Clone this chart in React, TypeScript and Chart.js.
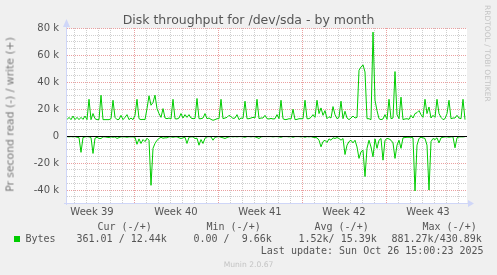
import React, { useEffect, useRef } from 'react';
import { Chart, registerables } from 'chart.js';

Chart.register(...registerables);

const TITLE = 'Disk throughput for /dev/sda - by month';
const Y_LABEL = 'Pr second read (-) / write (+)';
const SIDE_TEXT = 'RRDTOOL / TOBI OETIKER';
const FOOTER = 'Munin 2.0.67';
const LAST_UPDATE = 'Last update: Sun Oct 26 15:00:23 2025';
const SERIES_NAME = 'Bytes';

const HOURS_PER_POINT = 4;
const X_MAX_HOURS = 800;

// write (+) in kB/s, one value per 4 hours
const writeK = [
  12.3, 14, 12.3, 15, 12.3, 14, 12.3, 14, 12.5, 15,
  12.3, 27.4, 12.3, 16.8, 13, 12.3, 12.3, 30.4, 12.3, 12.3,
  12.3, 12.3, 13, 26.7, 14, 12.3, 12.5, 15.5, 12.3, 14,
  16, 12.3, 13.5, 12.3, 15.5, 27.4, 13, 12.3, 12.5, 12.3,
  20.5, 30, 23, 25, 30.5, 20.5, 16.8, 14, 20.5, 13.5,
  13, 13.5, 12.8, 27.4, 13, 12.8, 13.5, 16.8, 13.5, 16,
  14, 16, 13.5, 13, 13.2, 28, 13, 13, 13.5, 16.8,
  13, 13.5, 12.5, 11.8, 12.3, 13, 13, 27.4, 13, 13.5,
  14, 15.5, 14.5, 13.2, 13.5, 16, 12.3, 13.5, 13.2, 26,
  13, 13, 13.5, 14, 13.5, 27.4, 13, 13.5, 13.5, 15.5,
  13, 12.8, 13.2, 12.8, 13, 16, 13, 26.7, 13, 12.3,
  12.5, 13, 12.8, 20, 12.3, 12.5, 13, 13, 13, 26.7,
  13, 13, 14, 16, 14, 26.7, 16.8, 21, 15.5, 19,
  13, 14.5, 13.5, 22, 16, 13, 14, 26, 13, 18.5,
  13.5, 12.3, 13.5, 15, 13.5, 14, 49, 51.4, 53, 47.7,
  13, 13, 12.3, 77.3, 26.7, 19, 13, 12.3, 12.8, 16,
  12.5, 27.4, 13, 13.5, 48, 16, 13, 29, 12.3, 12.8,
  13, 12.5, 15.5, 13.5, 16.8, 17.5, 19, 16, 14, 27.4,
  16.8, 21.7, 13.5, 15.5, 14, 27.4, 16.8, 14, 12.3, 13,
  16.8, 26.7, 13, 13.5, 13.5, 15.5, 13.5, 13, 27.4, 12.3,
];

// read (-) in kB/s, one value per 4 hours (drawn below zero)
const readK = [
  0.3, 0.5, 0.3, 0.5, 0.3, 0.8, 1, 12, 1, 0.5,
  0.3, 0.5, 1, 12.8, 1.5, 0.8, 1.7, 1.7, 0.5, 0.5,
  0.8, 1, 0.5, 0.8, 0.5, 1.7, 1, 0.5, 0.5, 0.5,
  0.8, 0.5, 0.5, 0.5, 0.8, 6, 2, 5.4, 2.5, 4,
  1.5, 3, 36.5, 9, 5.4, 3, 1.7, 0.8, 1.5, 1.2,
  1.2, 0.5, 0.5, 0.8, 0.5, 0.5, 1.2, 1.7, 1.2, 0.8,
  5.4, 0.8, 0.5, 0.5, 1.7, 1.5, 6.7, 2.5, 5.4, 1.5,
  0.5, 0.3, 0.5, 3, 0.8, 0.5, 0.3, 0.8, 1.2, 1.7,
  1, 0.5, 0.3, 0.5, 0.3, 0.5, 0.3, 0.3, 0.5, 0.8,
  0.3, 0.3, 0.5, 0.3, 0.5, 1, 1.7, 0.5, 0.3, 0.3,
  0.3, 0.3, 0.3, 0.5, 0.3, 0.3, 0.5, 0.8, 0.3, 0.3,
  0.3, 0.5, 0.3, 0.8, 0.3, 0.3, 0.3, 0.5, 0.3, 0.8,
  0.3, 0.5, 0.3, 0.8, 1, 1.2, 3, 7.9, 4, 3,
  4.7, 2, 3, 1.2, 1.7, 1, 1.7, 3, 1.7, 13.6,
  6.7, 4, 3, 5, 3, 8, 16.5, 11.6, 10.4, 30,
  9, 3, 8, 15.3, 2, 9, 3, 1.7, 17.8, 3,
  1.7, 2, 3, 5, 16.5, 6.7, 3, 9, 1.2, 1,
  0.8, 0.8, 0.8, 1.2, 40.7, 6.7, 1.7, 0.8, 1.2, 1.7,
  6.7, 40, 4, 1.7, 2.5, 1.2, 5, 1.2, 0.8, 0.5,
  0.5, 0.8, 0.5, 0.5, 8.6, 1.2, 0.5, 0.5, 0.5, 0.3,
];

const Y_MIN = -50000;
const Y_MAX = 80000;
const Y_MINOR_STEP = 5000;
const Y_MAJOR_STEP = 20000;

const FIRST_DAY_HOUR = 14;
const DAY_HOURS = 24;
const FIRST_WEEK_START_HOUR = 134;
const WEEK_HOURS = 168;
const weekLabels = ['Week 39', 'Week 40', 'Week 41', 'Week 42', 'Week 43'];
const weekMidHours = [50, 218, 386, 554, 722];

const legendHeaders = ['Cur (-/+)', 'Min (-/+)', 'Avg (-/+)', 'Max (-/+)'];
const legendValues = ['361.01 / 12.44k', '0.00 /  9.66k', '1.52k/ 15.39k', '881.27k/430.89k'];

const GREEN = '#00CC00';
const TEXT = '#555555';
const AXIS = '#CFD6F8';
const MINOR_GRID = '#cfcfcf';
const MAJOR_GRID = '#eaa0a0';

const SANS = "'DejaVu Sans', sans-serif";
const MONO = "'DejaVu Sans Mono', monospace";

function dayHours(): number[] {
  const out: number[] = [];
  for (let h = FIRST_DAY_HOUR; h < X_MAX_HOURS; h += DAY_HOURS) out.push(h);
  return out;
}

function yGridValues(): number[] {
  const out: number[] = [];
  for (let v = Y_MIN + Y_MINOR_STEP; v <= Y_MAX; v += Y_MINOR_STEP) out.push(v);
  return out;
}

const muninPlugin = {
  id: 'muninDecor',
  beforeDraw(chart: any) {
    const { ctx, chartArea: a } = chart;
    ctx.save();
    ctx.fillStyle = '#ffffff';
    ctx.fillRect(a.left, a.top, a.right - a.left, a.bottom - a.top);
    ctx.restore();
  },
  beforeDatasetsDraw(chart: any) {
    const { ctx, chartArea: a, scales } = chart;
    const xs = scales.x;
    const ys = scales.y;
    const L = Math.round(a.left);
    const R = Math.round(a.right);
    const T = Math.floor(a.top);
    const B = Math.floor(a.bottom);
    ctx.save();
    const drawV = (v: number, color: string) => {
      const px = Math.floor(xs.getPixelForValue(v));
      ctx.fillStyle = color;
      for (let yy = T; yy < B; yy += 2) ctx.fillRect(px, yy, 1, 1);
    };
    const drawH = (v: number, color: string) => {
      const py = Math.floor(ys.getPixelForValue(v));
      ctx.fillStyle = color;
      for (let xx = L; xx < R; xx += 2) ctx.fillRect(xx, py, 1, 1);
    };
    const days = dayHours();
    const yv = yGridValues();
    days.forEach((h) => {
      if ((h - FIRST_WEEK_START_HOUR) % WEEK_HOURS !== 0) drawV(h, MINOR_GRID);
    });
    yv.forEach((v) => {
      if (v % Y_MAJOR_STEP !== 0) drawH(v, MINOR_GRID);
    });
    days.forEach((h) => {
      if ((h - FIRST_WEEK_START_HOUR) % WEEK_HOURS === 0) drawV(h, MAJOR_GRID);
    });
    yv.forEach((v) => {
      if (v % Y_MAJOR_STEP === 0) drawH(v, MAJOR_GRID);
    });
    ctx.restore();
  },
  afterDatasetsDraw(chart: any) {
    const { ctx, chartArea: a, scales } = chart;
    const L = Math.round(a.left);
    const R = Math.round(a.right);
    const T = Math.floor(a.top);
    const B = Math.floor(a.bottom);
    const y0 = Math.floor(scales.y.getPixelForValue(0));
    ctx.save();
    ctx.fillStyle = '#000000';
    ctx.fillRect(L, y0, R - L, 1);

    ctx.fillStyle = AXIS;
    // y axis with arrow
    ctx.fillRect(L - 1, T - 2, 1, B - T + 4);
    ctx.beginPath();
    ctx.moveTo(L - 4, T - 1);
    ctx.lineTo(L + 3, T - 1);
    ctx.lineTo(L - 0.5, T - 9);
    ctx.closePath();
    ctx.fill();
    // x axis with arrow
    ctx.fillRect(L - 3, B, R - L + 4, 1);
    ctx.beginPath();
    ctx.moveTo(R + 1, B - 3);
    ctx.lineTo(R + 1, B + 4);
    ctx.lineTo(R + 7, B + 0.5);
    ctx.closePath();
    ctx.fill();
    ctx.restore();
  },
};

export default function App() {
  const canvasRef = useRef<HTMLCanvasElement | null>(null);

  useEffect(() => {
    if (!canvasRef.current) return;
    const writePts = writeK.map((v, i) => ({ x: i * HOURS_PER_POINT, y: v * 1000 }));
    const readPts = readK.map((v, i) => ({ x: i * HOURS_PER_POINT, y: -v * 1000 }));

    const chart = new Chart(canvasRef.current, {
      type: 'line',
      data: {
        datasets: [
          { label: 'read', data: readPts, borderColor: GREEN, borderWidth: 1, pointRadius: 0, fill: false, tension: 0 },
          { label: 'write', data: writePts, borderColor: GREEN, borderWidth: 1, pointRadius: 0, fill: false, tension: 0 },
        ],
      },
      options: {
        animation: false,
        responsive: false,
        devicePixelRatio: 1,
        parsing: false as any,
        normalized: true,
        layout: { padding: { left: 0, right: 30, top: 28.5, bottom: 51.5 } },
        plugins: { legend: { display: false }, tooltip: { enabled: false }, title: { display: false } },
        scales: {
          x: {
            type: 'linear',
            min: 0,
            max: X_MAX_HOURS,
            afterBuildTicks(scale: any) {
              const vals = dayHours().concat(weekMidHours).sort((a, b) => a - b);
              scale.ticks = vals.map((v) => ({ value: v }));
            },
            afterFit(scale: any) {
              scale.height = 20;
            },
            ticks: {
              autoSkip: false,
              maxRotation: 0,
              minRotation: 0,
              padding: 3,
              color: TEXT,
              font: { family: SANS, size: 10 },
              callback(v: any) {
                const idx = weekMidHours.indexOf(Number(v));
                return idx >= 0 ? weekLabels[idx] : '';
              },
            },
            grid: { display: false, drawTicks: false },
            border: { display: false },
          },
          y: {
            type: 'linear',
            min: Y_MIN,
            max: Y_MAX,
            afterBuildTicks(scale: any) {
              const vals: number[] = [];
              for (let v = Y_MIN; v <= Y_MAX; v += Y_MAJOR_STEP / 4) vals.push(v);
              scale.ticks = vals.map((v) => ({ value: v }));
            },
            afterFit(scale: any) {
              scale.width = 67;
            },
            ticks: {
              autoSkip: false,
              padding: 8,
              color: TEXT,
              font: { family: SANS, size: 10 },
              callback(v: any) {
                const n = Number(v);
                if (n % Y_MAJOR_STEP !== 0) return '';
                if (n === 0) return '0';
                return `${n / 1000} k`;
              },
            },
            grid: { display: false, drawTicks: false },
            border: { display: false },
          },
        },
      } as any,
      plugins: [muninPlugin],
    });
    return () => chart.destroy();
  }, []);

  const base: React.CSSProperties = { position: 'absolute', whiteSpace: 'pre', margin: 0 };
  const mono: React.CSSProperties = { ...base, fontFamily: MONO, fontSize: 10, lineHeight: '12px', color: TEXT };
  const headerX = [98, 207, 315, 423];
  const valueX = [77, 194, 299, 392];

  return (
    <div style={{ position: 'absolute', left: 0, top: 0, width: 497, height: 275, background: '#F0F0F0', overflow: 'hidden' }}>
      <canvas ref={canvasRef} width={497} height={275} style={{ position: 'absolute', left: 0, top: 0, width: 497, height: 275 }} />
      <div style={{ ...base, left: 0, width: 497, top: 12.2, textAlign: 'center', fontFamily: SANS, fontSize: 12.5, lineHeight: '15px', color: TEXT }}>{TITLE}</div>
      <div style={{ ...base, left: -89.8, top: 107.5, width: 200, textAlign: 'center', fontFamily: SANS, fontSize: 10.8, lineHeight: '13px', color: '#7a7a7a', transform: 'rotate(-90deg)' }}>{Y_LABEL}</div>
      <div style={{ ...base, left: 482.5, top: 5, fontFamily: SANS, fontSize: 7.5, lineHeight: '9px', color: '#c4c4c4', writingMode: 'vertical-rl' }}>{SIDE_TEXT}</div>
      {legendHeaders.map((h, i) => (
        <div key={h} style={{ ...mono, left: headerX[i] - 0.5, top: 221.2 }}>{h}</div>
      ))}
      <div style={{ position: 'absolute', left: 14, top: 236, width: 6, height: 6, background: GREEN }} />
      <div style={{ ...mono, left: 25.5, top: 233.2 }}>{SERIES_NAME}</div>
      {legendValues.map((v, i) => (
        <div key={v} style={{ ...mono, left: valueX[i] - 0.5, top: 233.2 }}>{v}</div>
      ))}
      <div style={{ ...mono, left: 260.8, top: 245.2 }}>{LAST_UPDATE}</div>
      <div style={{ ...base, left: 0, width: 497, top: 260, textAlign: 'center', fontFamily: SANS, fontSize: 7.6, lineHeight: '9px', color: '#c4c4c4' }}>{FOOTER}</div>
    </div>
  );
}
